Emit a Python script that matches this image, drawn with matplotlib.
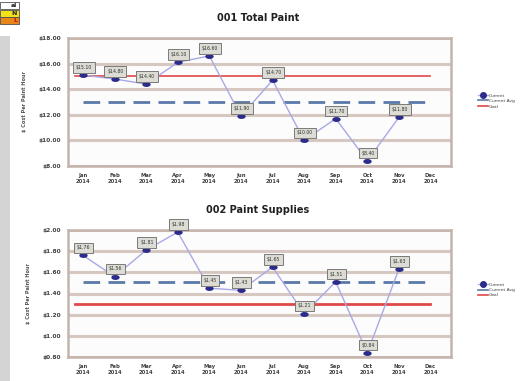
import matplotlib
matplotlib.use("Agg")
import matplotlib.pyplot as plt
from matplotlib.patches import Rectangle
from matplotlib.path import Path
from matplotlib.lines import Line2D
import numpy as np

months = ["Jan", "Feb", "Mar", "Apr", "May", "Jun", "Jul", "Aug", "Sep", "Oct", "Nov", "Dec"]
year = "2014"

# 001 Total Paint ($ cost per paint hour)
paint_current = [15.10, 14.80, 14.40, 16.10, 16.60, 11.90, 14.70, 10.00, 11.70, 8.40, 11.80]
paint_avg = 13.00
paint_goal = 15.00
paint_ticks = [8.00, 10.00, 12.00, 14.00, 16.00, 18.00]

# 002 Paint Supplies ($ cost per paint hour)
supplies_current = [1.76, 1.56, 1.81, 1.98, 1.45, 1.43, 1.65, 1.21, 1.51, 0.84, 1.63]
supplies_avg = 1.51
supplies_goal = 1.30
supplies_ticks = [0.80, 1.00, 1.20, 1.40, 1.60, 1.80, 2.00]

W, H = 522, 381
fig = plt.figure(figsize=(W / 100, H / 100), dpi=100)
fig.patch.set_facecolor("white")

GRID = "#d6c8c0"
FRAME = "#c4b4ac"
LINE = "#a9a9e6"
MARK = "#2b2b8c"
AVG = "#5a78a8"
GOAL = "#e04848"
TXT = "#404040"

# ellipse marker (wider than tall)
ell = Path.unit_circle()
ell = Path(ell.vertices * np.array([1.0, 0.5]), ell.codes)


def fx(px):
    return px / W


def fy(py):
    return 1 - py / H


def draw_panel(top_px, bot_px, title, values, avg, goal, ticks, goal_lw, legend_y):
    ax = fig.add_axes([fx(68), fy(bot_px), fx(451) - fx(68), fy(top_px) - fy(bot_px)])
    ax.set_facecolor("#fcfcfc")
    x = np.arange(len(values))
    ax.set_xlim(-0.475, 11.65)
    ax.set_ylim(ticks[0], ticks[-1])
    ax.set_yticks(ticks)
    ax.set_yticklabels([f"${t:.2f}" for t in ticks], fontsize=4.2, color=TXT,
                       fontweight="bold")
    ax.set_xticks(np.arange(len(months)))
    ax.set_xticklabels([f"{m}\n{year}" for m in months], fontsize=3.8, color=TXT,
                       fontweight="bold", linespacing=1.3)
    ax.tick_params(length=0, pad=5)
    ax.grid(axis="y", color=GRID, lw=2.2, zorder=0)
    for s in ax.spines.values():
        s.set_color(FRAME)
        s.set_linewidth(1.8)
    ax.set_ylabel("$ Cost Per Paint Hour", fontsize=3.6, color="#555555", labelpad=8,
                  fontweight="bold")

    months_x = np.arange(len(months))
    ax.plot([months_x[0] - 0.25, months_x[-1]], [goal, goal], color=GOAL,
            lw=goal_lw, zorder=2)
    avg_line, = ax.plot([months_x[0], months_x[-1]], [avg, avg], color=AVG, lw=2,
                        zorder=2)
    avg_line.set_dashes([6, 3])
    ax.plot(x, values, color=LINE, lw=1.0, zorder=3)
    ax.plot(x, values, ls="none", marker=ell, ms=5, color=MARK, zorder=4)

    for xi, v in zip(x, values):
        ax.annotate(f"${v:.2f}", (xi, v), xytext=(0.5, 5.5), textcoords="offset points",
                    ha="center", va="center", fontsize=3.3, color="#303030", zorder=5,
                    bbox=dict(boxstyle="square,pad=0.6", fc="#dcdcd4", ec="#7a7a7a",
                              lw=0.7))

    fig.text(fx(258), fy(top_px - 20), title, ha="center", va="center",
             fontsize=7, fontweight="bold", color="#202020")

    handles = [
        Line2D([], [], color=LINE, lw=1, marker="o", ms=4, mfc=MARK, mec=MARK),
        Line2D([], [], color=AVG, lw=1.2),
        Line2D([], [], color=GOAL, lw=1.2),
    ]
    fig.legend(handles, ["Current", "Current Avg", "Goal"], loc="center left",
               bbox_to_anchor=(fx(474), fy(legend_y)), frameon=False, fontsize=3.2,
               handlelength=2.2, handletextpad=0.3, labelspacing=0.3,
               labelcolor=TXT)
    return ax


draw_panel(38, 166, "001 Total Paint", paint_current, paint_avg, paint_goal,
           paint_ticks, 1.2, 101)
draw_panel(230, 357, "002 Paint Supplies", supplies_current, supplies_avg,
           supplies_goal, supplies_ticks, 2.0, 290)

# spreadsheet edge on the left
fig.patches.append(Rectangle((0, 0), fx(10), fy(36), transform=fig.transFigure,
                             fc="#d4d4d4", ec="none"))
cells = [("al", "white", 2), ("N", "#f2e21a", 10), ("L", "#e8861a", 17)]
for label, col, top in cells:
    fig.patches.append(Rectangle((0, fy(top + 7)), fx(19), 7 / H,
                                 transform=fig.transFigure, fc=col, ec="#505050",
                                 lw=0.6))
    fig.text(fx(17), fy(top + 3.5), label, ha="right", va="center", fontsize=4.5,
             fontweight="bold", color="#202020" if label != "L" else "#c01010")

fig.savefig("out.png", dpi=100)
